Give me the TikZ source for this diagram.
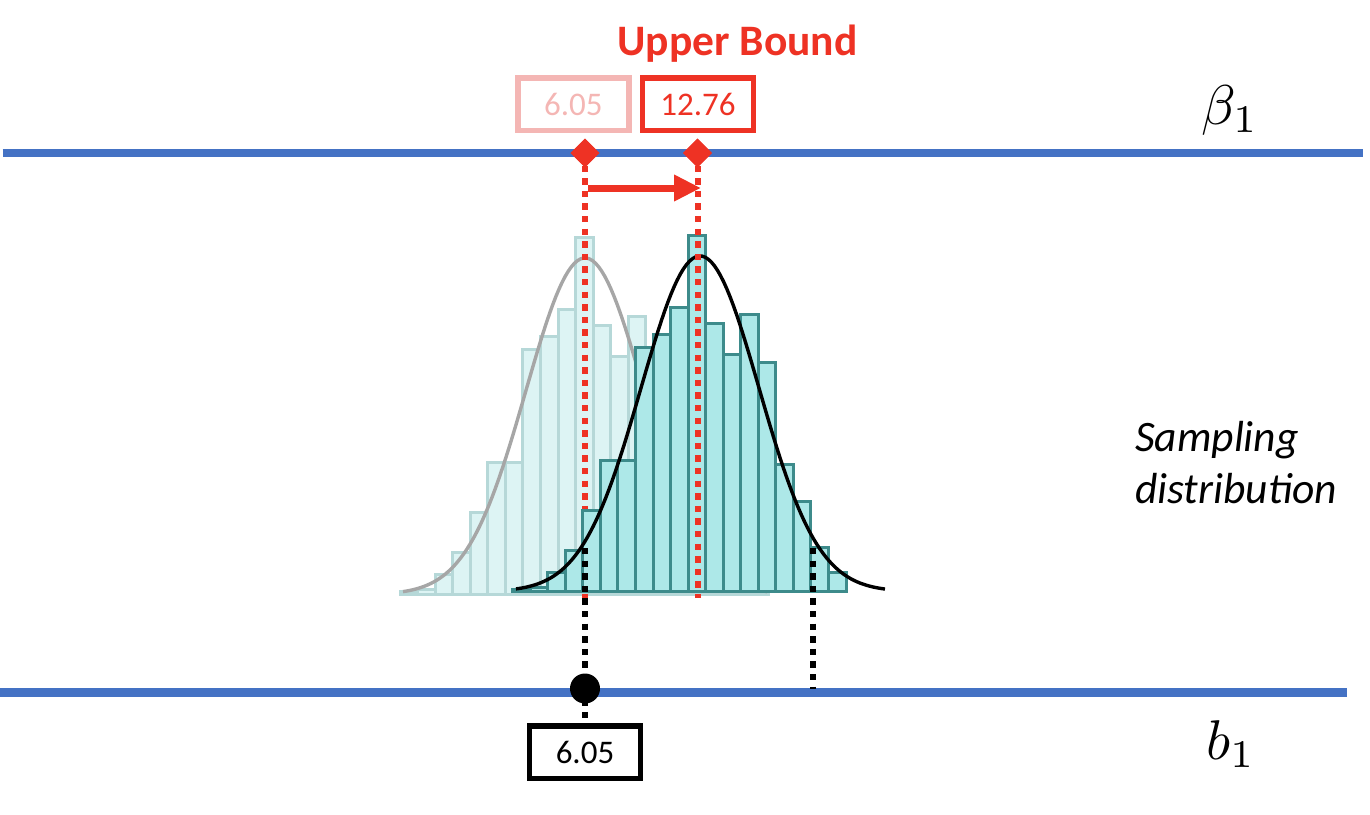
\documentclass[tikz,border=0pt]{standalone}
\usepackage{fontspec}
\setmainfont{Carlito}
\usetikzlibrary{arrows.meta,shapes.geometric}
\definecolor{myblue}{HTML}{4472C4}
\definecolor{myred}{HTML}{EE3224}
\definecolor{mypink}{HTML}{F4B6B4}
\definecolor{darkfill}{HTML}{ADE8E8}
\definecolor{darkedge}{HTML}{3D8B8B}
\definecolor{lightfill}{HTML}{DDF4F4}
\definecolor{lightedge}{HTML}{B6D8D8}
\definecolor{curvegray}{HTML}{A6A6A6}
\tikzset{
  blueline/.style={myblue, line width=8.5pt},
  darkbar/.style={fill=darkfill, draw=darkedge, line width=3pt},
  lightbar/.style={fill=lightfill, draw=lightedge, line width=3pt},
  dotline/.style={line width=6pt, dash pattern=on 6.3pt off 6.3pt},
  numbox/.style={draw, line width=5.5pt, inner sep=0pt, minimum width=111pt, minimum height=52.5pt, font=\fontsize{33}{38}\selectfont},
  marker/.style={diamond, fill=myred, inner sep=0pt, minimum size=29pt},
}
\begin{document}
\begin{tikzpicture}[x=1pt, y=-1pt]
\useasboundingbox (0,0) rectangle (1370,814);
% axis lines
\draw[blueline] (2.5,153) -- (1362.5,153);
\draw[blueline] (0,692.5) -- (1347,692.5);
% light (shifted) histogram
\foreach \k/\t in {0/589,1/587.5,2/572.3,3/550,4/510,5/460,6/460,7/347.7,8/334,9/307.7,10/235.7,11/323.3,12/354,13/314.3,14/362.7,15/464,16/501.7,17/547.3,18/572.7,19/589,20/590} {
  \filldraw[lightbar] ({400.1+\k*17.55},594.5) rectangle ({400.1+(\k+1)*17.55},{\t+2});
}
\draw[curvegray, line width=3.4pt] plot[domain=403:767, samples=120] (\x, {594.5-336.5*exp(-((\x-585)/59)^2/2)});
% left red dotted line
\node[marker] (dL) at (585,153) {};
\coordinate (rL) at (585,598);
\draw[dotline, myred] (dL.center) -- (rL);
% dark histogram
\foreach \k/\t in {0/589,1/587.5,2/572.3,3/550,4/510,5/460,6/460,7/347.7,8/334,9/307.7,10/235.7,11/323.3,12/354,13/314.3,14/362.7,15/464,16/501.7,17/547.3,18/572.7} {
  \filldraw[darkbar] ({512.6+\k*17.55},591.5) rectangle ({512.6+(\k+1)*17.55},\t);
}
\draw[black, line width=3.4pt] plot[domain=516:885, samples=120] (\x, {591.5-335.5*exp(-((\x-700)/59)^2/2)});
% right red dotted line
\node[marker] (dR) at (697.5,153) {};
\coordinate (rR) at (697.5,598);
\draw[dotline, myred] (dR.center) -- (rR);
\node[marker] at (585,153) {};
\node[marker] at (697.5,153) {};
% arrow
\coordinate (aS) at (588,188);
\coordinate (aE) at (701,188);
\draw[myred, line width=7pt, -{Triangle[length=27pt,width=25pt]}] (aS) -- (aE);
% bottom box and black dotted lines
\node[numbox, draw=black, text=black] (bb) at (585,752) {6.05};
\coordinate (cL) at (585,548);
\draw[dotline, black] (cL) -- (bb.north);
\coordinate (cR) at (812.5,548);
\coordinate (cRb) at (812.5,689);
\draw[dotline, black] (cR) -- (cRb);
\node[circle, fill=black, inner sep=0pt, minimum size=30pt] (dot) at (585,688.5) {};
% top boxes and title
\node[numbox, draw=mypink, text=mypink] (lb) at (573.3,104.2) {6.05};
\node[numbox, draw=myred, text=myred] (rb) at (698,104.3) {12.76};
\node[anchor=base, text=myred, font=\fontsize{43.5}{48}\selectfont\bfseries, inner sep=0pt] (ub) at (737.5,55) {Upper Bound};
% labels
\node[scale=5.6, inner sep=0pt] (beta) at (1230,110) {$\beta_1$};
\node[scale=5.6, inner sep=0pt] (b1) at (1231,744) {$b_1$};
\node[anchor=north west, align=left, inner sep=0pt, font=\fontsize{43.5}{51.7}\selectfont\itshape] (sd) at (1135,421) {Sampling\\distribution};
\end{tikzpicture}
\end{document}
